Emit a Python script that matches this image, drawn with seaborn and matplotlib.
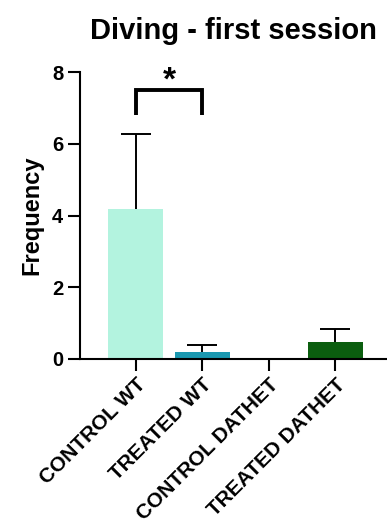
import numpy as np
import pandas as pd
import matplotlib
matplotlib.use("Agg")
import matplotlib.pyplot as plt
import seaborn as sns

categories = ["CONTROL WT", "TREATED WT", "CONTROL DATHET", "TREATED DATHET"]
means = [4.17, 0.19, 0.0, 0.48]
sem = [2.11, 0.20, 0.0, 0.35]
colors = ["#b3f3df", "#1b98b0", "#b3f3df", "#0b5e0f"]
yticks = [0, 2, 4, 6, 8]
title = "Diving - first session"
ylabel = "Frequency"
sig_pair = (0, 1)
sig_height = 7.5
sig_drop = 0.7
sig_text = "*"

sns.set_theme(style="ticks")
plt.rcParams["font.family"] = ["Liberation Sans", "DejaVu Sans"]
plt.rcParams["font.weight"] = "bold"
plt.rcParams["text.color"] = "black"
plt.rcParams["axes.labelcolor"] = "black"

fig = plt.figure(figsize=(3.87, 5.27), dpi=100)
ax = fig.add_axes([80/387, 168/527, 307/387, 287/527])

df = pd.DataFrame({"group": categories, "value": means})
sns.barplot(data=df, x="group", y="value", hue="group", palette=colors,
            legend=False, width=0.83, ax=ax, saturation=1, linewidth=0)

idx = [i for i, e in enumerate(sem) if e > 0]
eb = ax.errorbar([i for i in idx], [means[i] for i in idx],
                 yerr=[[0]*len(idx), [sem[i] for i in idx]],
                 fmt="none", ecolor="black", elinewidth=1.4, capsize=10.8, capthick=1.4)
# hide lower caps (errors shown upward only)
eb[1][0].set_visible(False)

ax.set_ylim(0, 8)
ax.set_xlim(-0.84, 3.78)
ax.set_yticks(yticks)
ax.set_yticklabels([str(t) for t in yticks], fontsize=14.5, fontweight="bold", color="black")
ax.set_xticks(range(len(categories)))
ax.set_xticklabels(categories, fontsize=15, fontweight="bold", rotation=45,
                   ha="right", va="top", rotation_mode="anchor", color="black")
ax.set_xlabel("")
ax.set_ylabel(ylabel, fontsize=17, fontweight="bold", color="black")
ax.yaxis.set_label_coords(-0.12, 0.5)
ax.set_title(title, fontsize=21, fontweight="bold", pad=24, color="black")

for s in ["top", "right"]:
    ax.spines[s].set_visible(False)
for s in ["left", "bottom"]:
    ax.spines[s].set_linewidth(1.5)
    ax.spines[s].set_color("black")
ax.tick_params(axis="both", width=1.5, length=8.5, color="black", labelcolor="black")
ax.tick_params(axis="y", pad=3.5)
ax.tick_params(axis="x", pad=3)

x0, x1 = sig_pair
ax.plot([x0, x0, x1, x1], [sig_height - sig_drop, sig_height, sig_height, sig_height - sig_drop],
        color="black", lw=2.8, clip_on=False, solid_capstyle="butt", solid_joinstyle="miter")
ax.text((x0 + x1) / 2, sig_height, sig_text, ha="center", va="baseline",
        fontsize=24, fontweight="bold", clip_on=False)

fig.savefig("out.png", dpi=100)
